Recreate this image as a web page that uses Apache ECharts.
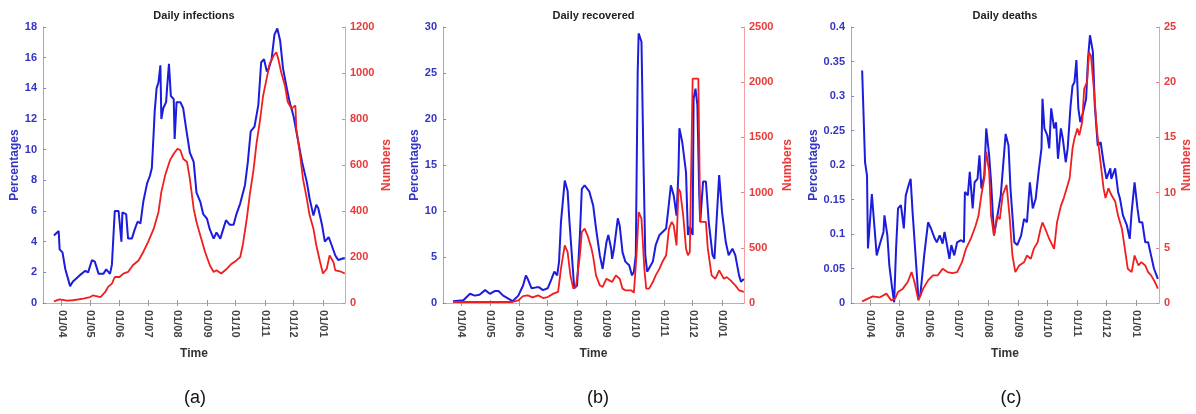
<!DOCTYPE html>
<html><head><meta charset="utf-8">
<script src="https://cdn.jsdelivr.net/npm/echarts@6/dist/echarts.min.js"></script>
<style>html,body{margin:0;padding:0;background:#fff}#c{width:1196px;height:414px}</style>
</head><body><div id="c"></div>
<script>
// All "day" values are days counted from 1 March 2020 (day 0).
const tickDays   = [31, 61, 92, 122, 153, 184, 214, 245, 275, 306];
const tickLabels = ['01/04','01/05','01/06','01/07','01/08','01/09','01/10','01/11','01/12','01/01'];

// (a) Daily infections
const infBlueDay = [23,28,29,32,35,40,43,50,56,59,63,66,70,75,78,82,84,87,91,94,95,99,101,105,108,111,114,117,121,124,126,128,129,131,133,135,136,138,141,142,144,146,149,150,152,156,159,162,166,170,173,177,180,184,187,191,194,198,201,204,208,212,215,219,224,227,230,234,238,241,244,247,249,252,255,258,261,264,268,271,275,278,284,289,292,296,299,301,305,308,312,315,319,322,327,329];
const infBlueVal = [4.4,4.7,3.5,3.3,2.2,1.1,1.4,1.8,2.1,2.0,2.8,2.7,1.9,1.9,2.2,1.9,2.5,6.0,6.0,4.0,5.9,5.8,4.2,4.2,4.8,5.3,5.2,6.6,7.8,8.3,8.8,11.2,12.5,14.0,14.4,15.5,12.0,12.7,13.1,14.0,15.6,13.5,13.3,10.7,13.1,13.1,12.7,11.4,9.8,9.2,7.2,6.6,5.8,5.5,4.8,4.2,4.6,4.2,4.8,5.4,5.1,5.1,5.8,6.5,7.7,9.2,11.2,11.5,12.9,15.7,15.9,15.1,15.3,15.9,17.5,17.9,17.1,15.3,14.0,13.1,12.2,11.2,9.2,7.9,6.8,5.7,6.4,6.2,5.1,4.0,4.3,3.8,3.1,2.8,2.9,2.9];
const infRedDay  = [23,29,37,43,54,61,64,72,77,80,84,87,92,96,101,106,112,117,122,128,133,136,140,145,149,153,156,159,163,166,170,173,177,182,187,191,194,199,205,210,215,219,222,226,229,233,236,240,243,247,250,254,257,259,262,266,269,273,277,278,282,285,289,292,296,299,303,306,310,313,317,319,324,329];
const infRedVal  = [7,16,10,12,19,26,33,26,48,70,84,113,113,128,135,164,185,222,265,323,396,483,555,620,649,671,664,627,613,540,410,352,294,222,164,135,142,128,149,171,185,200,260,370,470,580,690,800,900,980,1040,1075,1090,1062,1004,946,874,845,859,758,642,540,454,381,323,251,178,128,149,207,178,142,138,128];

// (b) Daily recovered
const recBlueDay = [22,33,40,45,50,56,61,66,70,75,80,85,91,96,99,101,105,110,113,117,122,126,129,132,134,136,140,143,145,148,150,153,156,158,161,166,170,173,177,180,184,186,189,190,192,196,198,201,204,208,211,213,215,217,218,221,223,225,227,233,236,240,243,247,249,252,255,258,260,261,264,268,270,272,275,276,278,280,282,283,286,289,292,296,298,301,303,306,310,313,317,320,324,326,329];
const recBlueVal = [0.2,0.3,1.0,0.8,0.9,1.4,1.0,1.3,1.3,0.8,0.5,0.2,0.8,1.9,3.0,2.6,1.6,1.7,1.7,1.4,1.6,2.6,3.4,3.0,4.5,8.8,13.3,12.2,8.8,4.5,1.6,1.9,7.4,12.4,12.8,12.1,10.6,8.1,5.2,3.7,6.6,7.4,5.9,4.8,5.9,9.2,8.4,5.5,4.5,4.1,3.0,3.4,5.2,25.1,29.3,28.4,16.0,5.2,3.4,4.5,6.3,7.4,7.7,8.1,9.9,12.8,11.7,9.5,14.2,19.0,17.5,14.2,7.4,8.3,7.4,22.2,23.3,21.5,11.7,8.8,13.2,13.2,8.8,5.2,4.8,10.3,13.9,9.9,6.6,5.2,5.9,5.2,3.0,2.3,2.6];
const recRedDay  = [22,43,85,91,96,101,106,112,117,122,128,133,136,140,143,146,149,152,156,158,161,164,168,170,173,177,180,184,187,190,194,198,201,204,210,213,216,218,221,224,226,229,233,236,240,243,247,250,253,255,258,260,262,265,268,270,272,274,275,281,283,286,289,291,295,299,303,308,311,315,320,324,329];
const recRedVal  = [9,9,9,24,63,69,51,69,45,54,85,100,311,522,462,250,130,160,432,643,673,613,500,420,250,160,145,220,205,190,250,220,130,115,115,94,462,824,764,311,130,130,190,250,311,371,432,673,734,703,522,1035,1005,794,492,432,462,462,2032,2032,734,734,734,492,250,220,296,220,235,205,160,115,100];

// (c) Daily deaths
const detBlueDay = [23,26,28,29,31,33,35,38,41,45,46,49,51,54,56,58,60,63,66,68,71,73,75,79,81,83,87,91,94,98,100,103,106,108,110,113,115,118,121,125,128,129,132,134,137,139,142,144,146,149,151,154,156,159,162,166,171,174,176,180,183,187,190,193,196,199,202,205,208,209,211,214,216,218,221,223,225,228,230,233,235,238,240,242,244,246,248,251,254,256,258,261,263,266,269,272,275,279,280,284,287,289,292,296,299,301,304,307,309,312,315,318,321,324,328];
const detBlueVal = [0.337,0.204,0.185,0.079,0.117,0.158,0.156,0.069,0.084,0.103,0.127,0.098,0.055,0.021,0.001,0.079,0.137,0.142,0.108,0.156,0.171,0.180,0.132,0.050,0.006,0.011,0.069,0.117,0.108,0.093,0.088,0.098,0.086,0.103,0.088,0.064,0.084,0.069,0.088,0.091,0.088,0.161,0.156,0.190,0.137,0.175,0.180,0.214,0.166,0.185,0.253,0.214,0.175,0.098,0.122,0.156,0.245,0.228,0.166,0.088,0.084,0.098,0.122,0.117,0.175,0.137,0.151,0.190,0.224,0.296,0.253,0.243,0.224,0.282,0.253,0.262,0.209,0.253,0.238,0.204,0.224,0.286,0.315,0.320,0.352,0.282,0.262,0.277,0.296,0.354,0.388,0.364,0.286,0.228,0.233,0.204,0.180,0.195,0.180,0.195,0.161,0.151,0.127,0.113,0.093,0.132,0.175,0.137,0.117,0.117,0.088,0.088,0.069,0.050,0.035];
const detRedDay  = [23,29,34,41,48,53,57,60,65,70,74,77,81,86,91,96,101,106,111,116,121,126,130,135,140,143,146,149,151,154,156,159,162,165,168,172,175,178,181,185,190,193,197,200,204,207,209,212,216,221,224,228,231,234,237,240,242,245,247,250,252,255,257,259,262,265,268,272,274,277,280,284,287,291,294,297,301,304,308,311,315,318,321,325,328];
const detRedVal  = [0.15,0.4,0.6,0.5,0.85,0.24,0.4,1.0,1.3,1.9,2.8,1.9,0.24,1.3,2.05,2.5,2.5,3.1,2.8,2.7,2.8,3.7,4.9,5.8,7.0,7.9,9.8,11.3,13.7,11.9,7.9,6.1,7.9,7.6,9.8,10.7,7.9,4.3,2.8,3.4,3.7,4.3,4.0,4.9,5.5,6.7,7.3,6.7,5.8,4.9,7.3,8.8,9.5,10.4,11.3,14.0,14.9,15.8,15.2,16.4,19.4,20.0,22.7,22.4,19.4,15.8,13.4,10.4,9.5,10.4,9.8,9.2,7.9,6.7,4.9,3.1,2.8,4.3,3.4,3.7,3.4,2.8,2.5,1.9,1.3];

const titles    = ['Daily infections', 'Daily recovered', 'Daily deaths'];
const subLabels = ['(a)', '(b)', '(c)'];
const leftName  = 'Percentages', rightName = 'Numbers', xName = 'Time';

const X_MIN = 11.5, X_MAX = 329.2;

const FONT = '"Liberation Sans", Arial, sans-serif';
const BLUE = '#1c1cdc', RED = '#f01e1e';
const BLUE_TXT = '#3434c4', RED_TXT = '#ea3a3a';

const panels = [
  {left: 43,  width: 302, lMax: 18,  lInt: 2,    rMax: 1200, rInt: 200, lGap: 22, rGap: 36, subX: 195,
   blue: [infBlueDay, infBlueVal], red: [infRedDay, infRedVal]},
  {left: 443, width: 301, lMax: 30,  lInt: 5,    rMax: 2500, rInt: 500, lGap: 21, rGap: 38, subX: 598,
   blue: [recBlueDay, recBlueVal], red: [recRedDay, recRedVal]},
  {left: 851, width: 308, lMax: 0.4, lInt: 0.05, rMax: 25,   rInt: 5,   lGap: 29, rGap: 22, subX: 1011,
   blue: [detBlueDay, detBlueVal], red: [detRedDay, detRedVal]}
];
const TOP = 27, HEIGHT = 276;

function tickLabel(v) {
  let best = -1, bd = Infinity;
  tickDays.forEach((t, k) => { const d = Math.abs(t - v); if (d < bd) { bd = d; best = k; } });
  return bd < 1 ? tickLabels[best] : '';
}
const plainNum = v => String(Math.round(v * 1000) / 1000);

const grid = [], xAxis = [], yAxis = [], series = [], graphic = [];
panels.forEach((p, i) => {
  grid.push({left: p.left, top: TOP, width: p.width, height: HEIGHT, containLabel: false});
  xAxis.push({
    type: 'value', gridIndex: i, min: X_MIN, max: X_MAX, position: 'bottom',
    name: xName, nameLocation: 'middle', nameGap: 45,
    nameTextStyle: {fontFamily: FONT, fontWeight: 'bold', fontSize: 12, color: '#333'},
    axisLine: {show: true, lineStyle: {color: '#b4b4b4', width: 1}},
    axisTick: {show: true, inside: true, length: 3, customValues: tickDays, lineStyle: {color: '#999'}},
    axisLabel: {
      customValues: tickDays, rotate: -90, margin: 7,
      fontFamily: FONT, fontWeight: 'bold', fontSize: 11, color: '#444',
      formatter: tickLabel
    },
    splitLine: {show: false}
  });
  xAxis.push({
    type: 'value', gridIndex: i, min: X_MIN, max: X_MAX, position: 'top',
    axisLine: {show: true, lineStyle: {color: '#b4b4b4', width: 1}},
    axisTick: {show: true, inside: true, length: 3, customValues: tickDays, lineStyle: {color: '#999'}},
    axisLabel: {show: false}, splitLine: {show: false}
  });
  yAxis.push({
    type: 'value', gridIndex: i, position: 'left', min: 0, max: p.lMax, interval: p.lInt,
    name: leftName, nameLocation: 'middle', nameGap: p.lGap,
    nameTextStyle: {fontFamily: FONT, fontWeight: 'bold', fontSize: 12, color: BLUE_TXT},
    axisLine: {show: true, lineStyle: {color: '#a0a0e8', width: 1}},
    axisTick: {show: true, inside: true, length: 3, lineStyle: {color: '#8080e0'}},
    axisLabel: {fontFamily: FONT, fontWeight: 'bold', fontSize: 11, color: BLUE_TXT, margin: 6, formatter: plainNum},
    splitLine: {show: false}
  });
  yAxis.push({
    type: 'value', gridIndex: i, position: 'right', min: 0, max: p.rMax, interval: p.rInt,
    name: rightName, nameLocation: 'middle', nameGap: p.rGap, nameRotate: 90,
    nameTextStyle: {fontFamily: FONT, fontWeight: 'bold', fontSize: 12, color: RED_TXT},
    axisLine: {show: true, lineStyle: {color: '#f0a0a0', width: 1}},
    axisTick: {show: true, inside: true, length: 3, lineStyle: {color: '#f08080'}},
    axisLabel: {fontFamily: FONT, fontWeight: 'bold', fontSize: 11, color: RED_TXT, margin: 5, formatter: plainNum},
    splitLine: {show: false}
  });
  series.push({
    type: 'line', xAxisIndex: 2 * i, yAxisIndex: 2 * i, showSymbol: false, symbol: 'none',
    lineStyle: {color: BLUE, width: 2}, itemStyle: {color: BLUE}, z: 2,
    data: p.blue[0].map((d, k) => [d, p.blue[1][k]])
  });
  series.push({
    type: 'line', xAxisIndex: 2 * i, yAxisIndex: 2 * i + 1, showSymbol: false, symbol: 'none',
    lineStyle: {color: RED, width: 1.8}, itemStyle: {color: RED}, z: 3,
    data: p.red[0].map((d, k) => [d, p.red[1][k]])
  });
  graphic.push({
    type: 'text', x: p.left + p.width / 2, y: 16,
    style: {text: titles[i], font: 'bold 11px ' + FONT, fill: '#222', align: 'center', verticalAlign: 'middle'}
  });
  graphic.push({
    type: 'text', x: p.subX, y: 398,
    style: {text: subLabels[i], font: '18px ' + FONT, fill: '#111', align: 'center', verticalAlign: 'middle'}
  });
});

const chart = echarts.init(document.getElementById('c'), null, {renderer: 'canvas'});
chart.setOption({
  backgroundColor: '#fff', animation: false,
  grid, xAxis, yAxis, series, graphic
});
</script>
</body></html>
